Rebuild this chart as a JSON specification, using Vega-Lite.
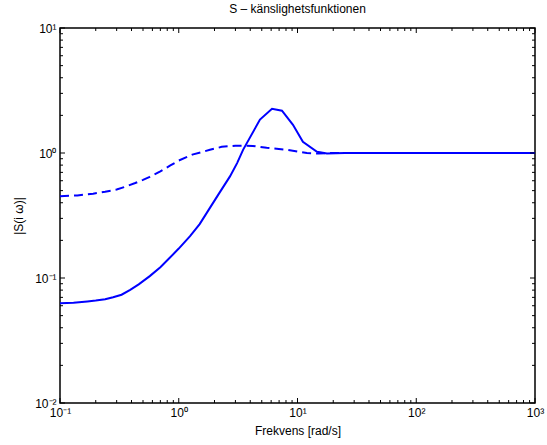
{
  "$schema": "https://vega.github.io/schema/vega-lite/v6.json",
  "width": 475,
  "height": 375,
  "autosize": "none",
  "padding": {"left": 60, "top": 28, "right": 12, "bottom": 42},
  "background": "white",
  "title": {"text": "S – känslighetsfunktionen", "fontSize": 12, "fontWeight": "normal", "font": "Liberation Sans", "color": "black", "offset": 6},
  "config": {
    "view": {"stroke": "black", "strokeWidth": 1.5},
    "axis": {"labelFont": "Liberation Sans", "titleFont": "Liberation Sans", "labelColor": "black", "titleColor": "black", "titleFontWeight": "normal", "titleFontSize": 12, "labelFontSize": 12, "domain": false, "ticks": false, "grid": false}
  },
  "datasets": {
    "solid": [
      {"f": 0.1, "S": 0.0627}, {"f": 0.13, "S": 0.0635}, {"f": 0.17, "S": 0.065}, {"f": 0.2, "S": 0.066}, {"f": 0.24, "S": 0.0675}, {"f": 0.28, "S": 0.0702}, {"f": 0.33, "S": 0.0735},
      {"f": 0.39, "S": 0.0805}, {"f": 0.46, "S": 0.089}, {"f": 0.57, "S": 0.1035}, {"f": 0.7, "S": 0.122},
      {"f": 0.84, "S": 0.145}, {"f": 1.0, "S": 0.172}, {"f": 1.245, "S": 0.216}, {"f": 1.5, "S": 0.27},
      {"f": 1.83, "S": 0.364}, {"f": 2.2, "S": 0.48}, {"f": 2.7, "S": 0.65}, {"f": 3.1, "S": 0.83},
      {"f": 3.48, "S": 1.06}, {"f": 4.83, "S": 1.85}, {"f": 6.1, "S": 2.26}, {"f": 7.4, "S": 2.18},
      {"f": 9.16, "S": 1.68}, {"f": 11.1, "S": 1.23}, {"f": 14.6, "S": 1.024}, {"f": 17.7, "S": 0.99},
      {"f": 25, "S": 1.0}, {"f": 1000, "S": 1.0}
    ],
    "dashed": [
      {"f": 0.1, "S": 0.451}, {"f": 0.14, "S": 0.458}, {"f": 0.19, "S": 0.473}, {"f": 0.24, "S": 0.49}, {"f": 0.3, "S": 0.51}, {"f": 0.36, "S": 0.54}, {"f": 0.43, "S": 0.575},
      {"f": 0.5, "S": 0.61}, {"f": 0.57, "S": 0.645}, {"f": 0.7, "S": 0.713}, {"f": 0.85, "S": 0.795}, {"f": 1.0, "S": 0.87}, {"f": 1.3, "S": 0.97},
      {"f": 1.83, "S": 1.06}, {"f": 2.3, "S": 1.12}, {"f": 3.0, "S": 1.145}, {"f": 4.2, "S": 1.14},
      {"f": 5.5, "S": 1.1}, {"f": 8.2, "S": 1.06}, {"f": 12, "S": 1.0}, {"f": 15, "S": 0.99},
      {"f": 20, "S": 1.0}, {"f": 1000, "S": 1.0}
    ],
    "xticks": [
      {"v": 0.1, "kind": "major"}, {"v": 0.2, "kind": "minor"}, {"v": 0.3, "kind": "minor"}, {"v": 0.4, "kind": "minor"}, {"v": 0.5, "kind": "minor"}, {"v": 0.6, "kind": "minor"}, {"v": 0.7, "kind": "minor"}, {"v": 0.8, "kind": "minor"}, {"v": 0.9, "kind": "minor"},
      {"v": 1, "kind": "major"}, {"v": 2, "kind": "minor"}, {"v": 3, "kind": "minor"}, {"v": 4, "kind": "minor"}, {"v": 5, "kind": "minor"}, {"v": 6, "kind": "minor"}, {"v": 7, "kind": "minor"}, {"v": 8, "kind": "minor"}, {"v": 9, "kind": "minor"},
      {"v": 10, "kind": "major"}, {"v": 20, "kind": "minor"}, {"v": 30, "kind": "minor"}, {"v": 40, "kind": "minor"}, {"v": 50, "kind": "minor"}, {"v": 60, "kind": "minor"}, {"v": 70, "kind": "minor"}, {"v": 80, "kind": "minor"}, {"v": 90, "kind": "minor"},
      {"v": 100, "kind": "major"}, {"v": 200, "kind": "minor"}, {"v": 300, "kind": "minor"}, {"v": 400, "kind": "minor"}, {"v": 500, "kind": "minor"}, {"v": 600, "kind": "minor"}, {"v": 700, "kind": "minor"}, {"v": 800, "kind": "minor"}, {"v": 900, "kind": "minor"},
      {"v": 1000, "kind": "major"}
    ],
    "yticks": [
      {"v": 0.01, "kind": "major"}, {"v": 0.02, "kind": "minor"}, {"v": 0.03, "kind": "minor"}, {"v": 0.04, "kind": "minor"}, {"v": 0.05, "kind": "minor"}, {"v": 0.06, "kind": "minor"}, {"v": 0.07, "kind": "minor"}, {"v": 0.08, "kind": "minor"}, {"v": 0.09, "kind": "minor"},
      {"v": 0.1, "kind": "major"}, {"v": 0.2, "kind": "minor"}, {"v": 0.3, "kind": "minor"}, {"v": 0.4, "kind": "minor"}, {"v": 0.5, "kind": "minor"}, {"v": 0.6, "kind": "minor"}, {"v": 0.7, "kind": "minor"}, {"v": 0.8, "kind": "minor"}, {"v": 0.9, "kind": "minor"},
      {"v": 1, "kind": "major"}, {"v": 2, "kind": "minor"}, {"v": 3, "kind": "minor"}, {"v": 4, "kind": "minor"}, {"v": 5, "kind": "minor"}, {"v": 6, "kind": "minor"}, {"v": 7, "kind": "minor"}, {"v": 8, "kind": "minor"}, {"v": 9, "kind": "minor"},
      {"v": 10, "kind": "major"}
    ]
  },
  "layer": [
    {
      "data": {"name": "solid"},
      "mark": {"type": "line", "color": "#0000ff", "strokeWidth": 2, "clip": true},
      "encoding": {
        "x": {"field": "f", "type": "quantitative",
          "scale": {"type": "log", "domain": [0.1, 1000], "nice": false},
          "axis": {"orient": "bottom", "title": "Frekvens [rad/s]", "titlePadding": 7,
            "values": [0.1, 1, 10, 100, 1000],
            "labelExpr": "datum.value == 0.1 ? '10⁻¹' : datum.value == 1 ? '10⁰' : datum.value == 10 ? '10¹' : datum.value == 100 ? '10²' : '10³'",
            "labelPadding": 4, "labelFlush": false, "labelOverlap": false}},
        "y": {"field": "S", "type": "quantitative",
          "scale": {"type": "log", "domain": [0.01, 10], "nice": false},
          "axis": {"orient": "left", "title": "|S(i ω)|", "titlePadding": 9,
            "values": [0.01, 0.1, 1, 10],
            "labelExpr": "datum.value == 0.01 ? '10⁻²' : datum.value == 0.1 ? '10⁻¹' : datum.value == 1 ? '10⁰' : '10¹'",
            "labelPadding": 4, "labelFlush": false, "labelOverlap": false}}
      }
    },
    {
      "data": {"name": "dashed"},
      "mark": {"type": "line", "color": "#0000ff", "strokeWidth": 2, "strokeDash": [9, 5], "clip": true},
      "encoding": {
        "x": {"field": "f", "type": "quantitative", "axis": null},
        "y": {"field": "S", "type": "quantitative", "axis": null}
      }
    },
    {
      "data": {"name": "xticks"}, "transform": [{"filter": "datum.kind == 'major'"}],
      "mark": {"type": "rule", "color": "black", "strokeWidth": 1, "y2Offset": -5},
      "encoding": {"x": {"field": "v", "type": "quantitative", "axis": null}, "y": {"datum": 0.01, "type": "quantitative", "axis": null}, "y2": {"datum": 0.01}}
    },
    {
      "data": {"name": "xticks"}, "transform": [{"filter": "datum.kind == 'minor'"}],
      "mark": {"type": "rule", "color": "black", "strokeWidth": 1, "y2Offset": -3},
      "encoding": {"x": {"field": "v", "type": "quantitative", "axis": null}, "y": {"datum": 0.01, "type": "quantitative", "axis": null}, "y2": {"datum": 0.01}}
    },
    {
      "data": {"name": "xticks"}, "transform": [{"filter": "datum.kind == 'major'"}],
      "mark": {"type": "rule", "color": "black", "strokeWidth": 1, "y2Offset": 5},
      "encoding": {"x": {"field": "v", "type": "quantitative", "axis": null}, "y": {"datum": 10, "type": "quantitative", "axis": null}, "y2": {"datum": 10}}
    },
    {
      "data": {"name": "xticks"}, "transform": [{"filter": "datum.kind == 'minor'"}],
      "mark": {"type": "rule", "color": "black", "strokeWidth": 1, "y2Offset": 3},
      "encoding": {"x": {"field": "v", "type": "quantitative", "axis": null}, "y": {"datum": 10, "type": "quantitative", "axis": null}, "y2": {"datum": 10}}
    },
    {
      "data": {"name": "yticks"}, "transform": [{"filter": "datum.kind == 'major'"}],
      "mark": {"type": "rule", "color": "black", "strokeWidth": 1, "x2Offset": 5},
      "encoding": {"y": {"field": "v", "type": "quantitative", "axis": null}, "x": {"datum": 0.1, "type": "quantitative", "axis": null}, "x2": {"datum": 0.1}}
    },
    {
      "data": {"name": "yticks"}, "transform": [{"filter": "datum.kind == 'minor'"}],
      "mark": {"type": "rule", "color": "black", "strokeWidth": 1, "x2Offset": 3},
      "encoding": {"y": {"field": "v", "type": "quantitative", "axis": null}, "x": {"datum": 0.1, "type": "quantitative", "axis": null}, "x2": {"datum": 0.1}}
    },
    {
      "data": {"name": "yticks"}, "transform": [{"filter": "datum.kind == 'major'"}],
      "mark": {"type": "rule", "color": "black", "strokeWidth": 1, "x2Offset": -5},
      "encoding": {"y": {"field": "v", "type": "quantitative", "axis": null}, "x": {"datum": 1000, "type": "quantitative", "axis": null}, "x2": {"datum": 1000}}
    },
    {
      "data": {"name": "yticks"}, "transform": [{"filter": "datum.kind == 'minor'"}],
      "mark": {"type": "rule", "color": "black", "strokeWidth": 1, "x2Offset": -3},
      "encoding": {"y": {"field": "v", "type": "quantitative", "axis": null}, "x": {"datum": 1000, "type": "quantitative", "axis": null}, "x2": {"datum": 1000}}
    }
  ],
  "resolve": {"axis": {"x": "independent", "y": "independent"}}
}
